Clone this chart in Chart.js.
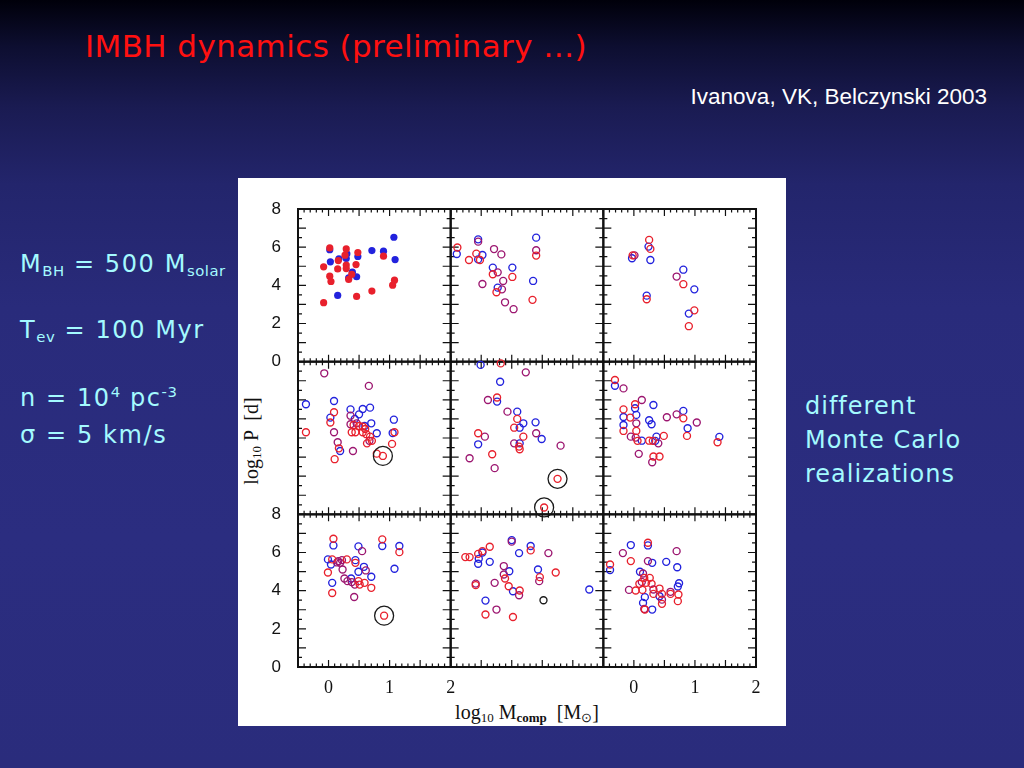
<!DOCTYPE html>
<html><head><meta charset="utf-8">
<script src="https://cdn.jsdelivr.net/npm/chart.js@4"></script>
<style>
html,body{margin:0;padding:0;width:1024px;height:768px;overflow:hidden;}
body{position:relative;background:linear-gradient(180deg,#00000a 0%,#0d0e30 6%,#1a1b52 14%,#23256c 24%,#292b7b 40%,#2b2d80 70%,#2a2c7c 100%);font-family:"DejaVu Sans",Lato,sans-serif;}
.t{position:absolute;white-space:nowrap;}
#title{left:85px;top:28px;font-size:31px;color:#ff1010;letter-spacing:0.4px;}
#cite{right:37px;top:84px;font-family:"Liberation Sans",Arial,sans-serif;font-size:22.5px;color:#fff;}
.cy{color:#a4faff;font-size:24px;letter-spacing:1.6px;}
sub{font-size:62%;vertical-align:-0.25em;line-height:0;letter-spacing:0.5px;}
sup{font-size:62%;vertical-align:0.6em;line-height:0;letter-spacing:0.5px;}
#box{position:absolute;left:238px;top:178px;width:548px;height:548px;background:#fff;}
canvas.p{position:absolute;left:238px;top:178px;}
.ax{position:absolute;font-family:"Liberation Serif","Times New Roman",serif;font-size:20px;color:#111;white-space:nowrap;}
.ax sub{font-size:65%;letter-spacing:0;}
</style></head><body>
<div class="t" id="title">IMBH dynamics (preliminary …)</div>
<div class="t" id="cite">Ivanova, VK, Belczynski 2003</div>
<div class="t cy" style="left:20px;top:250px;">M<sub>BH</sub> = 500 M<sub>solar</sub></div>
<div class="t cy" style="left:20px;top:316px;">T<sub>ev</sub> = 100 Myr</div>
<div class="t cy" style="left:20px;top:384px;">n = 10<sup>4</sup> pc<sup>-3</sup></div>
<div class="t cy" style="left:20px;top:421px;">σ = 5 km/s</div>
<div class="t cy" style="left:805px;top:389px;line-height:34px;font-size:24px;letter-spacing:1px;">different<br>Monte Carlo<br>realizations</div>
<div id="box"></div>
<div class="ax" id="ytitle" style="left:251px;top:441px;transform:translate(-50%,-50%) rotate(-90deg);">log<sub>10</sub> P &nbsp;[d]</div>
<div class="ax" id="xtitle" style="left:527px;top:712px;transform:translate(-50%,-50%);">log<sub>10</sub> M<sub><b>comp</b></sub> &nbsp;[M<sub>⊙</sub>]</div>
<script>
// ---- axes ----
const xRange = [-0.5, 2];
const yRange = [0, 8];
const xTickValues = [0, 1, 2];
const xTickLabels = ['0', '1', '2'];
const yTickValues = [0, 2, 4, 6, 8];
const yTickLabels = ['0', '2', '4', '6', '8'];

// ---- data: [log10 Mcomp, log10 P] ----
const red11 = [[-0.08,4.97],[0.02,5.96],[0.02,4.48],[0.04,4.20],[-0.08,3.09],[0.16,5.30],[0.15,4.86],[0.29,5.91],[0.27,5.58],[0.29,5.06],[0.29,4.88],[0.33,4.31],[0.38,4.57],[0.45,5.09],[0.48,5.72],[0.46,3.42],[0.71,3.70],[0.90,5.53],[1.05,4.01],[1.08,4.27]];
const blue11 = [[0.02,5.87],[0.03,5.23],[0.17,5.39],[0.30,5.65],[0.29,5.40],[0.15,3.47],[0.48,5.51],[0.39,4.69],[0.46,4.45],[0.33,4.39],[0.71,5.82],[0.90,5.79],[1.07,6.52],[1.09,5.35]];

const red12 = [[-0.39,5.98],[-0.20,5.33],[-0.08,5.66],[-0.02,5.33],[0.19,4.58],[0.25,3.64],[0.51,4.44],[0.90,5.56],[0.84,3.24]];
const blue12 = [[-0.40,5.64],[-0.05,6.41],[-0.05,5.36],[0.02,5.59],[0.19,4.93],[0.27,3.88],[0.51,4.93],[0.85,4.23],[0.90,6.50]];
const both12 = [[-0.05,6.29],[0.02,4.07],[0.27,4.68],[0.36,4.23],[0.34,3.79],[0.39,3.11],[0.53,2.75],[0.90,5.84],[0.21,5.90],[0.33,5.62]];

const red13 = [[0.25,6.38],[0.27,5.91],[-0.02,5.57],[0.81,4.06],[0.21,3.27],[0.99,2.69],[0.90,1.86]];
const blue13 = [[0.24,6.03],[-0.03,5.42],[0.27,5.33],[0.81,4.82],[0.99,3.79],[0.21,3.46],[0.90,2.52]];
const both13 = [[0.01,5.57],[0.70,4.46]];

const red21 = [[0.09,5.35],[0.03,4.81],[-0.37,4.30],[0.17,3.46],[0.10,2.89],[0.41,4.68],[0.50,4.63],[0.56,4.60],[0.60,4.47],[0.38,4.30],[0.44,4.30],[0.56,4.30],[0.62,4.20],[0.68,4.07],[0.71,3.85],[0.63,3.72],[1.04,3.69],[0.79,3.18],[0.89,3.06],[1.08,4.30]];
const blue21 = [[-0.37,5.77],[0.09,5.94],[0.03,5.07],[0.19,3.32],[0.36,5.50],[0.56,5.52],[0.68,5.59],[0.50,5.24],[0.43,5.00],[0.70,4.77],[0.59,4.63],[0.79,4.25],[1.07,4.96],[1.05,4.26]];
const both21 = [[-0.07,7.39],[0.66,6.73],[0.15,3.78],[0.36,5.17],[0.36,4.72],[0.46,4.77],[0.40,3.32],[0.09,4.30],[0.67,3.85]];
const rings21 = [[0.89,3.06]];

const red22 = [[0.32,7.91],[0.26,6.12],[0.59,5.00],[0.54,4.54],[0.69,4.07],[-0.05,4.25],[0.62,3.55],[0.63,3.41],[0.18,3.15],[1.25,1.86],[1.03,0.36]];
const blue22 = [[-0.01,7.83],[0.31,6.95],[0.26,5.91],[0.59,5.38],[0.69,4.77],[0.63,4.54],[0.89,4.82],[0.99,3.95],[-0.05,3.67],[0.63,3.72]];
const both22 = [[0.73,7.44],[0.11,5.99],[0.43,5.38],[0.90,4.25],[0.06,4.07],[0.54,3.72],[1.30,3.60],[-0.19,2.94],[0.22,2.42]];
const rings22 = [[1.25,1.86],[1.03,0.36]];

const red23 = [[-0.31,7.04],[0.02,5.77],[-0.17,5.50],[-0.06,5.07],[-0.17,4.37],[0.81,5.03],[0.87,4.11],[0.04,4.37],[0.06,3.85],[0.25,3.86],[0.31,3.85],[0.49,4.11],[0.32,3.03],[0.42,3.03],[1.37,3.78]];
const blue23 = [[-0.31,6.74],[0.02,5.56],[0.32,5.73],[-0.17,5.10],[0.04,5.21],[-0.17,4.68],[0.25,4.93],[0.29,4.72],[0.81,5.42],[0.88,4.51],[0.13,3.86],[0.37,4.07],[0.35,3.85],[1.40,4.06]];
const both23 = [[-0.17,6.60],[0.13,5.99],[0.04,4.77],[0.54,5.09],[0.70,5.24],[1.03,4.81],[-0.05,4.07],[0.03,4.02],[0.40,3.72],[0.08,3.17],[0.30,2.73]];

const red31 = [[0.08,6.72],[0.88,6.69],[1.16,6.02],[0.06,5.64],[0.30,5.64],[0.44,5.46],[-0.01,4.95],[0.49,4.50],[0.51,4.32],[0.59,4.41],[0.70,4.15],[0.06,3.88],[0.91,2.69]];
const blue31 = [[0.08,6.37],[0.88,6.34],[0.49,6.32],[1.16,6.34],[-0.01,5.64],[0.04,5.37],[0.44,5.60],[0.58,5.25],[0.49,4.99],[0.70,4.73],[0.37,4.64],[0.06,4.41],[1.08,5.15]];
const both31 = [[0.55,6.07],[0.16,5.55],[0.22,5.60],[0.14,5.48],[0.19,5.46],[0.23,5.11],[0.61,5.06],[0.26,4.64],[0.31,4.50],[0.38,4.45],[0.43,4.32],[0.42,3.67]];
const rings31 = [[0.91,2.69]];

const red32 = [[0.81,6.11],[0.14,6.30],[0.02,6.07],[-0.05,5.93],[-0.26,5.76],[-0.19,5.76],[0.39,4.64],[0.96,4.71],[-0.09,4.29],[0.45,4.23],[0.63,4.01],[0.07,2.75],[0.52,2.62],[1.22,4.95]];
const blue32 = [[0.50,6.65],[0.81,6.34],[0.62,5.97],[0.02,6.00],[-0.04,5.67],[-0.05,5.41],[0.14,5.51],[0.46,5.02],[0.93,5.11],[0.52,3.97],[0.07,3.48],[1.77,4.06]];
const both32 = [[0.50,6.57],[1.10,5.97],[0.37,5.29],[0.37,4.85],[0.95,4.50],[-0.09,4.37],[0.22,4.41],[0.62,3.76],[0.25,3.01]];
const black32 = [[1.02,3.50]];

const red33 = [[0.23,6.51],[-0.05,5.55],[-0.39,5.37],[0.17,4.67],[0.26,4.67],[0.09,4.36],[0.20,4.41],[0.29,4.36],[0.03,4.01],[0.14,4.04],[0.42,4.11],[0.32,3.83],[0.46,3.83],[0.60,3.83],[0.73,3.80],[0.72,3.45],[0.46,3.31],[0.18,3.01]];
const blue33 = [[-0.05,6.39],[0.23,6.37],[0.30,5.46],[0.53,5.51],[0.71,5.23],[-0.39,5.08],[0.10,4.99],[0.74,4.39],[0.72,4.22],[0.18,3.66],[0.42,3.71],[0.15,3.36],[0.30,3.01]];
const both33 = [[0.70,6.07],[-0.18,5.97],[0.23,5.55],[0.15,4.90],[0.13,4.46],[-0.08,4.04],[0.32,4.06],[0.60,3.94],[0.46,3.53],[0.17,3.04]];

const panels = [
  {r:0,c:0,filled:true,red:red11,blue:blue11,both:[],rings:[],black:[]},
  {r:0,c:1,red:red12,blue:blue12,both:both12,rings:[],black:[]},
  {r:0,c:2,red:red13,blue:blue13,both:both13,rings:[],black:[]},
  {r:1,c:0,red:red21,blue:blue21,both:both21,rings:rings21,black:[]},
  {r:1,c:1,red:red22,blue:blue22,both:both22,rings:rings22,black:[]},
  {r:1,c:2,red:red23,blue:blue23,both:both23,rings:[],black:[]},
  {r:2,c:0,red:red31,blue:blue31,both:both31,rings:rings31,black:[]},
  {r:2,c:1,red:red32,blue:blue32,both:both32,rings:[],black:black32},
  {r:2,c:2,red:red33,blue:blue33,both:both33,rings:[],black:[]}
];

const RED = '#e8202c', BLUE = '#2222dd', PURPLE = '#9c1670', BLACK = '#1a1a1a';
const BOX = 548, GL = 60, GT = 31, CELL = 152.67, YW = 40, XH = 40;

const frameTicks = {
  id: 'frameTicks',
  beforeDatasetsDraw(chart) {
    const {ctx, chartArea: a, scales: {x, y}} = chart;
    ctx.save();
    ctx.strokeStyle = '#111';
    ctx.lineWidth = 1.2;
    ctx.beginPath();
    for (let i = -5; i <= 20; i++) {
      const px = x.getPixelForValue(i / 10);
      const L = (i % 5 === 0) ? 7 : 3.5;
      ctx.moveTo(px, a.top); ctx.lineTo(px, a.top + L);
      ctx.moveTo(px, a.bottom); ctx.lineTo(px, a.bottom - L);
    }
    for (let i = 0; i <= 16; i++) {
      const py = y.getPixelForValue(i / 2);
      const L = (i % 2 === 0) ? 8 : 4;
      ctx.moveTo(a.left, py); ctx.lineTo(a.left + L, py);
      ctx.moveTo(a.right, py); ctx.lineTo(a.right - L, py);
    }
    ctx.stroke();
    ctx.lineWidth = 2;
    ctx.strokeRect(a.left, a.top, a.right - a.left, a.bottom - a.top);
    ctx.restore();
  }
};

const toXY = arr => arr.map(p => ({x: p[0], y: p[1]}));

panels.forEach(p => {
  const cv = document.createElement('canvas');
  cv.className = 'p';
  cv.width = BOX; cv.height = BOX;
  cv.style.width = BOX + 'px'; cv.style.height = BOX + 'px';
  document.body.appendChild(cv);
  const left = GL + CELL * p.c, top = GT + CELL * p.r;
  const bottom = BOX - top - CELL, right = BOX - left - CELL;
  const showY = p.c === 0 && p.r !== 1;
  const showX = p.r === 2 && p.c !== 1;
  const rad = p.filled ? 3.6 : 3.5;
  const mk = (data, color, label) => ({
    label, data: toXY(data), clip: false,
    pointRadius: rad, pointHoverRadius: rad,
    pointBorderWidth: p.filled ? 0 : 1.35,
    borderColor: color,
    backgroundColor: p.filled ? color : 'rgba(0,0,0,0)',
    pointBackgroundColor: p.filled ? color : 'rgba(0,0,0,0)',
    pointBorderColor: color
  });
  const datasets = [
    {label:'highlight', data: toXY(p.rings), clip:false, pointRadius:9.5, pointBorderWidth:1.3, pointBorderColor:BLACK, pointBackgroundColor:'rgba(0,0,0,0)', borderColor:BLACK},
    mk(p.black, BLACK, 'other'),
    mk(p.red, RED, 'red realization'),
    mk(p.both, PURPLE, 'both'),
    mk(p.blue, BLUE, 'blue realization')
  ];
  new Chart(cv, {
    type: 'scatter',
    data: {datasets},
    plugins: [frameTicks],
    options: {
      responsive: false, animation: false, devicePixelRatio: 1,
      layout: {padding: {left: left - YW, top: top, right: right, bottom: bottom - XH}},
      plugins: {legend: {display: false}, tooltip: {enabled: false}},
      scales: {
        x: {
          type: 'linear', min: xRange[0], max: xRange[1],
          grid: {display: false}, border: {display: false},
          afterBuildTicks: s => { s.ticks = xTickValues.map(v => ({value: v})); },
          afterFit: s => { s.height = XH; },
          ticks: {display: showX, padding: 2, maxRotation: 0, autoSkip: false, color: '#111',
                  font: {family: '"Liberation Serif", serif', size: 18},
                  callback: (v) => xTickLabels[xTickValues.indexOf(v)]}
        },
        y: {
          type: 'linear', min: yRange[0], max: yRange[1],
          grid: {display: false}, border: {display: false},
          afterBuildTicks: s => { s.ticks = yTickValues.map(v => ({value: v})); },
          afterFit: s => { s.width = YW; },
          ticks: {display: showY, padding: 9, autoSkip: false, color: '#111',
                  font: {family: '"Liberation Sans", Arial, sans-serif', size: 17},
                  callback: (v) => yTickLabels[yTickValues.indexOf(v)]}
        }
      }
    }
  });
});
</script>
</body></html>
